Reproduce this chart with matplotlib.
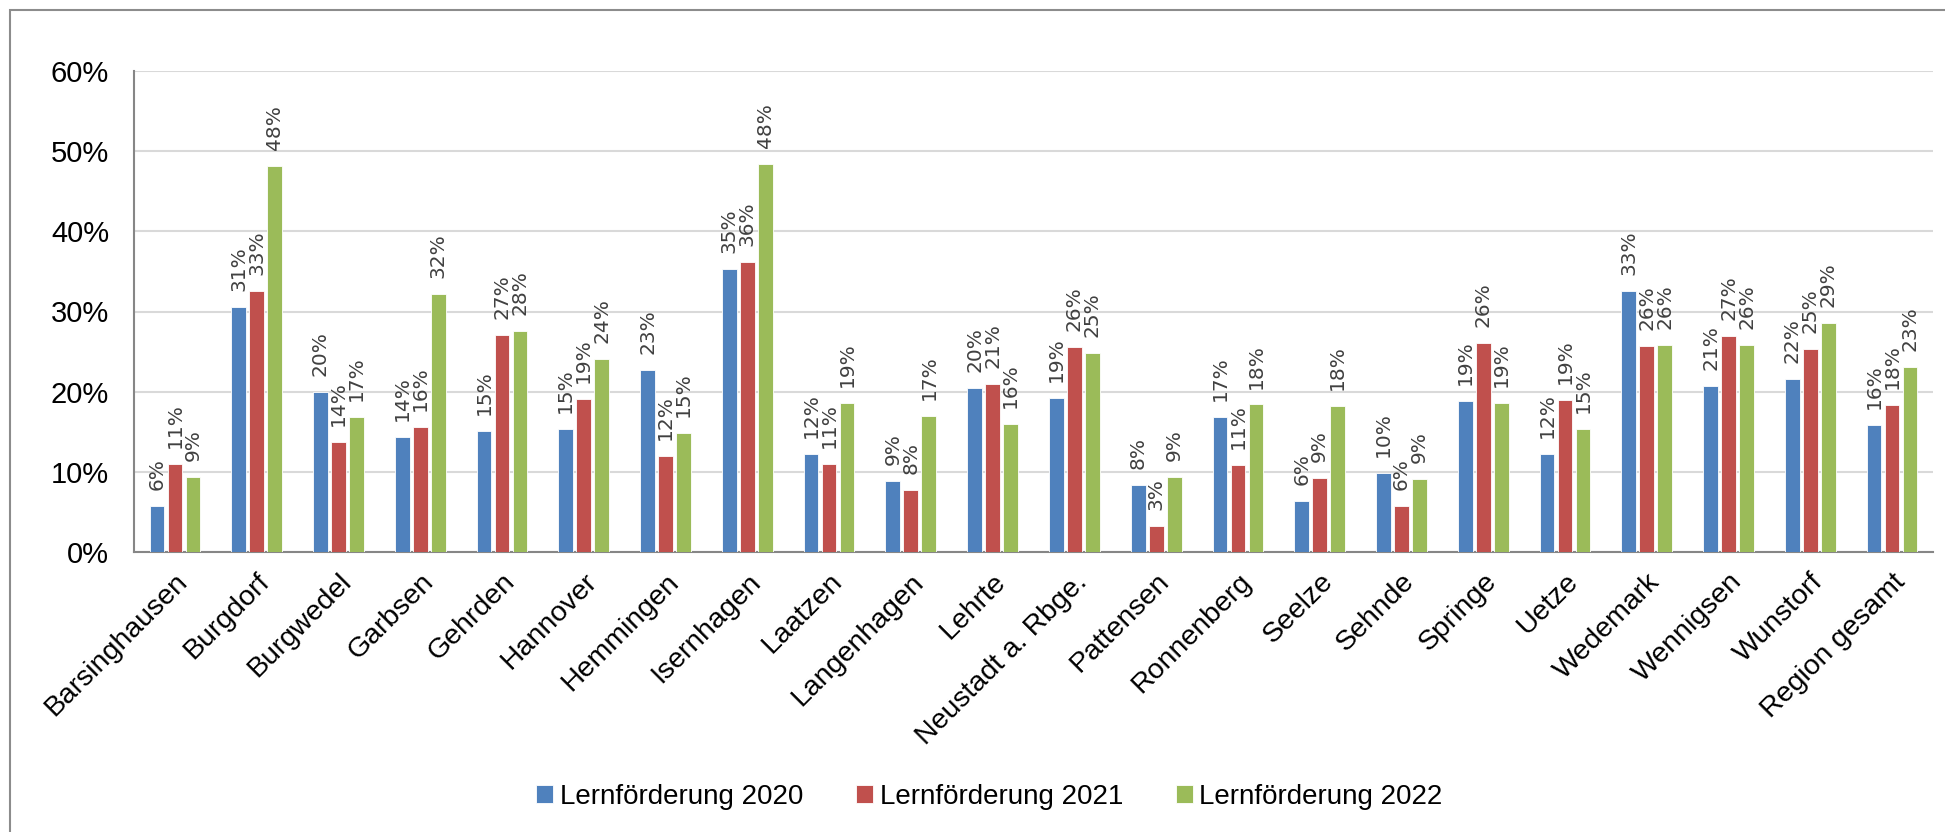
import matplotlib.pyplot as plt
import matplotlib.patches as patches
import numpy as np

plt.rcParams['font.family'] = ['Liberation Sans', 'DejaVu Sans']

# Anteile je Kommune (in %)
kommunen = ['Barsinghausen', 'Burgdorf', 'Burgwedel', 'Garbsen', 'Gehrden', 'Hannover',
            'Hemmingen', 'Isernhagen', 'Laatzen', 'Langenhagen', 'Lehrte', 'Neustadt a. Rbge.',
            'Pattensen', 'Ronnenberg', 'Seelze', 'Sehnde', 'Springe', 'Uetze', 'Wedemark',
            'Wennigsen', 'Wunstorf', 'Region gesamt']
werte_2020 = [5.7, 30.6, 20.0, 14.3, 15.1, 15.4, 22.7, 35.3, 12.2, 8.8, 20.4,
              19.2, 8.3, 16.8, 6.4, 9.8, 18.8, 12.2, 32.6, 20.7, 21.6, 15.8]
werte_2021 = [11.0, 32.6, 13.7, 15.6, 27.1, 19.1, 12.0, 36.2, 11.0, 7.7, 21.0,
              25.6, 3.3, 10.9, 9.2, 5.7, 26.1, 19.0, 25.7, 27.0, 25.3, 18.3]
werte_2022 = [9.4, 48.1, 16.9, 32.2, 27.6, 24.1, 14.9, 48.4, 18.6, 17.0, 16.0,
              24.8, 9.4, 18.4, 18.2, 9.1, 18.6, 15.4, 25.8, 25.8, 28.6, 23.1]
serien = ['Lernförderung 2020', 'Lernförderung 2021', 'Lernförderung 2022']
farben = ['#4F81BD', '#C0504D', '#9BBB59']

W, H = 1945, 832
fig = plt.figure(figsize=(W / 100, H / 100), dpi=100)
ax = fig.add_axes([134 / W, 1 - 552 / H, (1933 - 134) / W, (552 - 71) / H])

# äußerer Rahmen
fig.add_artist(patches.Rectangle((10 / W, -0.1), 1.2, 1 - 9.5 / H + 0.1,
                                 transform=fig.transFigure, fill=False,
                                 edgecolor='#8c8c8c', linewidth=1.5))

x = np.arange(len(kommunen))
versatz = [-0.22, 0, 0.22]
for daten, name, farbe, dx in zip([werte_2020, werte_2021, werte_2022], serien, farben, versatz):
    bars = ax.bar(x + dx, daten, width=0.18, color=farbe, edgecolor='white',
                  linewidth=0.6, label=name, zorder=3)
    for b, v in zip(bars, daten):
        ax.annotate(f'{v:.0f}%', (b.get_x() + b.get_width() / 2, v),
                    xytext=(0, 11.5), textcoords='offset points',
                    rotation=90, ha='center', va='bottom', fontsize=14.5,
                    color='#404040', family='DejaVu Sans')

ax.set_xlim(-0.5, len(kommunen) - 0.5)
ax.set_ylim(0, 60)
ax.set_yticks(range(0, 61, 10))
ax.set_yticklabels([f'{t}%' for t in range(0, 61, 10)], fontsize=21)
ax.set_xticks(x)
ax.set_xticklabels(kommunen, rotation=45, ha='right', va='top',
                   rotation_mode='anchor', fontsize=20.5)
ax.tick_params(axis='both', length=0)
ax.tick_params(axis='y', pad=18)
ax.tick_params(axis='x', pad=12)

ax.yaxis.grid(True, color='#d9d9d9', linewidth=1.5, zorder=0)
ax.set_axisbelow(True)
for s in ['top', 'right']:
    ax.spines[s].set_visible(False)
for s in ['left', 'bottom']:
    ax.spines[s].set_color('#868686')
    ax.spines[s].set_linewidth(1.5)

fig.legend(loc='center', bbox_to_anchor=(989.5 / W, 1 - 797 / H), ncol=3,
           frameon=False, fontsize=20, handlelength=0.6, handleheight=0.6,
           handletextpad=0.25, columnspacing=1.9)

fig.savefig('out.png', dpi=100)
